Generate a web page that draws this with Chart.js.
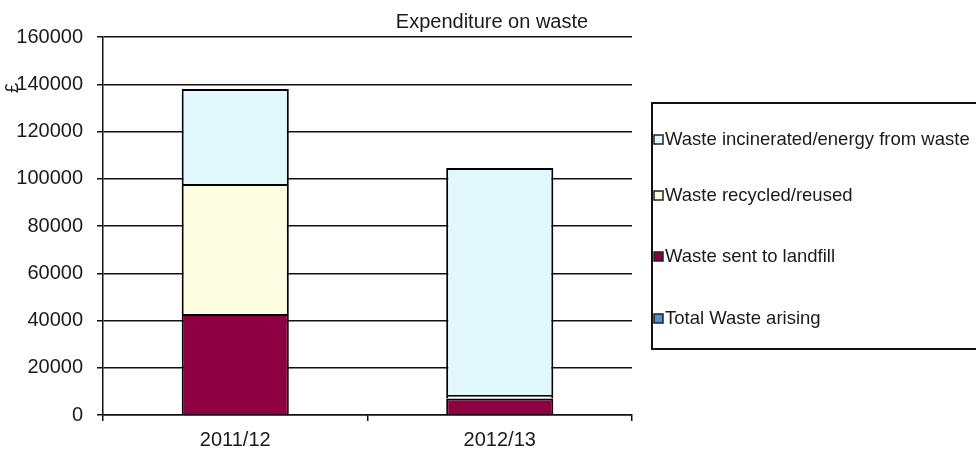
<!DOCTYPE html>
<html>
<head>
<meta charset="utf-8">
<script src="https://cdn.jsdelivr.net/npm/chart.js@4/dist/chart.umd.min.js"></script>
<style>
  html, body { margin: 0; padding: 0; background: #fff; }
  #wrap { width: 976px; height: 450px; }
</style>
</head>
<body>
<div id="wrap"><canvas id="wasteChart" width="976" height="450"></canvas></div>
<script>
// data
const years = ['2011/12', '2012/13'];
const totalArising = [0, 0];
const landfill = [42750, 7000];
const recycled = [55000, 1500];
const incinerated = [40250, 96000];
const yTicks = [0, 20000, 40000, 60000, 80000, 100000, 120000, 140000, 160000];

const FONT = 'Liberation Sans, Arial, sans-serif';

// title, rotated £ and the boxed legend on the right
const extras = {
  id: 'extras',
  afterDraw(chart) {
    const ctx = chart.ctx;
    ctx.save();
    ctx.fillStyle = '#1a1a1a';
    ctx.font = '20px ' + FONT;
    ctx.textAlign = 'center';
    ctx.textBaseline = 'middle';
    ctx.fillText('Expenditure on waste', 492, 22);

    ctx.save();
    ctx.translate(13, 88);
    ctx.rotate(-Math.PI / 2);
    ctx.font = '18px ' + FONT;
    ctx.fillText('£', 0, 0);
    ctx.restore();

    // legend box
    ctx.strokeStyle = '#111';
    ctx.lineWidth = 2;
    ctx.strokeRect(652, 103, 340, 246);
    const items = chart.data.datasets.slice().reverse();
    const rows = [139, 195, 256, 318];
    ctx.textAlign = 'left';
    ctx.font = '18.5px ' + FONT;
    items.forEach((ds, i) => {
      const y = rows[i];
      ctx.fillStyle = ds.backgroundColor;
      ctx.fillRect(654, y - 4, 9, 9);
      ctx.lineWidth = 1.5;
      ctx.strokeStyle = '#222';
      ctx.strokeRect(654, y - 4, 9, 9);
      ctx.fillStyle = '#1a1a1a';
      ctx.fillText(ds.label, 665, y + 1);
    });
    ctx.restore();
  }
};

let barSet = (label, data, color) => ({
  label: label,
  data: data,
  backgroundColor: color,
  borderColor: '#000',
  borderWidth: 2,
  barPercentage: 0.81,
  categoryPercentage: 0.5
});

const ctx = document.getElementById('wasteChart');
const chart = new Chart(ctx, {
  type: 'bar',
  data: {
    labels: years,
    datasets: [
      barSet('Total Waste arising', totalArising, '#4f8fd6'),
      barSet('Waste sent to landfill', landfill, '#8e0042'),
      barSet('Waste recycled/reused', recycled, '#fdfde2'),
      barSet('Waste incinerated/energy from waste', incinerated, '#e1f9fc')
    ]
  },
  options: {
    responsive: false,
    animation: false,
    layout: { padding: { left: 0, right: 344, top: 37, bottom: 0 } },
    plugins: {
      legend: { display: false },
      title: { display: false },
      tooltip: { enabled: false }
    },
    scales: {
      x: {
        stacked: true,
        grid: { drawOnChartArea: false, drawTicks: true, tickLength: 6, color: '#111', lineWidth: 1.5 },
        border: { color: '#111', width: 1.5 },
        ticks: { color: '#1a1a1a', font: { family: FONT, size: 20 }, padding: 7 },
        afterFit: (scale) => { scale.height = 35; }
      },
      y: {
        stacked: true,
        min: 0,
        max: 160000,
        afterBuildTicks: (scale) => { scale.ticks = yTicks.map(v => ({ value: v })); },
        grid: { color: '#111', lineWidth: 1.5, tickLength: 6 },
        border: { color: '#111', width: 1.5 },
        ticks: {
          color: '#1a1a1a',
          font: { family: FONT, size: 20 },
          padding: 14,
          callback: (v) => String(v)
        },
        afterFit: (scale) => { scale.width = 103; }
      }
    }
  },
  plugins: [extras]
});
</script>
</body>
</html>
